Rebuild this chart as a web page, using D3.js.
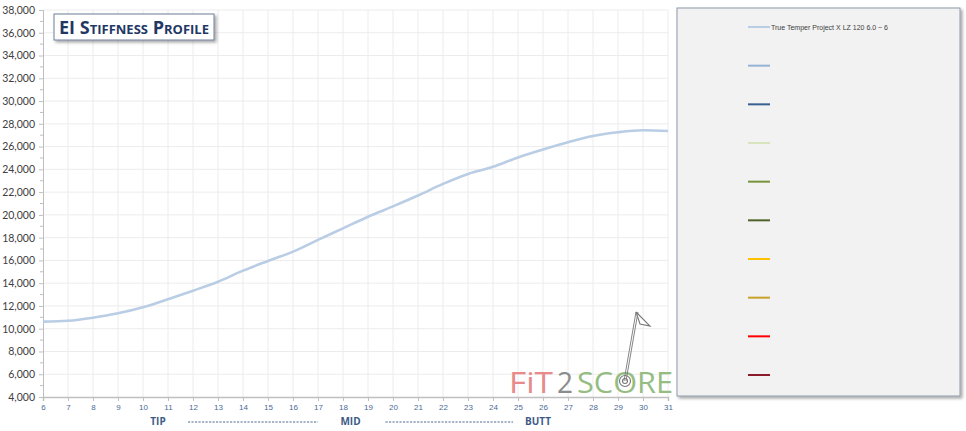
<!DOCTYPE html>
<html><head><meta charset="utf-8">
<script src="https://cdn.jsdelivr.net/npm/d3@7"></script>
<style>
html,body{margin:0;padding:0;background:#fff;}
svg{display:block;}
</style></head>
<body>
<svg id="chart" width="966" height="431"></svg>
<script>
// ---- data ----
const positions = [6,7,8,9,10,11,12,13,14,15,16,17,18,19,20,21,22,23,24,25,26,27,28,29,30,31];
const eiValues = [10620,10700,10970,11350,11880,12590,13340,14130,15100,15950,16770,17800,18820,19840,20750,21700,22720,23600,24220,25050,25750,26380,26930,27260,27430,27370];
const seriesNames = ["True Temper Project X LZ 120 6.0 ~ 6","","","","","","","","",""];
const seriesColors = ["#b9cde5","#95b3d7","#366092","#d7e4bc","#77933c","#4f6228","#ffc000","#c9a227","#ff0000","#8b1a2b"];
const yTicks = [4000,6000,8000,10000,12000,14000,16000,18000,20000,22000,24000,26000,28000,30000,32000,34000,36000,38000];
const yMinorTicks = d3.range(5000,38000,2000);
const zoneLabels = ["TIP","MID","BUTT"];
const zonePositions = [10.6,18.3,25.8];
const dashSpans = [[11.8,17.0],[19.7,24.8]];

// ---- layout ----
const svg = d3.select("#chart");
const L = 43, R = 668, T = 10, B = 397;
const x = d3.scaleLinear().domain([6,31]).range([L,R]);
const y = d3.scaleLinear().domain([4000,38000]).range([B,T]);

const defs = svg.append("defs");
const f = defs.append("filter").attr("id","shadow").attr("x","-10%").attr("y","-10%").attr("width","130%").attr("height","140%");
f.append("feDropShadow").attr("dx",2).attr("dy",2).attr("stdDeviation",1.5).attr("flood-color","#000").attr("flood-opacity",0.35);

// gridlines
svg.append("g").selectAll("line").data(yTicks.filter(d=>d>4000)).join("line")
  .attr("x1",L).attr("x2",R).attr("y1",d=>y(d)).attr("y2",d=>y(d))
  .attr("stroke","#ececec").attr("stroke-width",1);
svg.append("g").selectAll("line").data(positions.slice(1)).join("line")
  .attr("x1",d=>x(d)).attr("x2",d=>x(d)).attr("y1",T).attr("y2",B)
  .attr("stroke","#ececec").attr("stroke-width",1);

// y axis
const yAxis = svg.append("g").attr("transform",`translate(${L},0)`)
  .call(d3.axisLeft(y).tickValues(yTicks).tickFormat(d3.format(",")).tickSize(4).tickPadding(4));
yAxis.select(".domain").attr("stroke","#bfbfbf");
yAxis.selectAll(".tick line").attr("stroke","#bfbfbf");
yAxis.selectAll("text").attr("font-family","Lato, 'Open Sans', sans-serif").attr("font-size","10.5px").attr("fill","#404040");
svg.append("g").selectAll("line").data(yMinorTicks).join("line")
  .attr("x1",L-3).attr("x2",L).attr("y1",d=>y(d)).attr("y2",d=>y(d))
  .attr("stroke","#bfbfbf");

// x axis
const xAxis = svg.append("g").attr("transform",`translate(0,${B})`)
  .call(d3.axisBottom(x).tickValues(positions).tickFormat(d3.format("d")).tickSize(4).tickPadding(3));
xAxis.select(".domain").attr("stroke","#bfbfbf").attr("stroke-width",1.5);
xAxis.selectAll(".tick line").attr("stroke","#bfbfbf");
xAxis.selectAll("text").attr("font-family","'Liberation Sans', Arial, sans-serif").attr("font-size","8px").attr("fill","#4a6a96");

// zone labels
svg.append("g").selectAll("text").data(zoneLabels).join("text")
  .attr("x",(d,i)=>x(zonePositions[i])).attr("y",425).attr("text-anchor","middle")
  .attr("font-family","'Open Sans', sans-serif").attr("font-weight","bold").attr("font-size","10px")
  .attr("fill","#3d5a86").text(d=>d);
svg.append("g").selectAll("line").data(dashSpans).join("line")
  .attr("x1",d=>x(d[0])).attr("x2",d=>x(d[1])).attr("y1",422).attr("y2",422)
  .attr("stroke","#3d5a86").attr("stroke-width",0.9).attr("stroke-dasharray","2.2,1.3");

// watermark logo
const logo = svg.append("g").attr("font-family","'Open Sans', sans-serif").attr("font-size","30px");
logo.append("text").attr("x",509).attr("y",393).attr("fill","#e88a8a").attr("textLength",44).attr("lengthAdjust","spacingAndGlyphs").text("FiT");
logo.append("text").attr("x",557).attr("y",393).attr("fill","#8c8c8c").attr("textLength",16).attr("lengthAdjust","spacingAndGlyphs").text("2");
logo.append("text").attr("x",577).attr("y",393).attr("fill","#95bd82").attr("textLength",96).attr("lengthAdjust","spacingAndGlyphs").text("SCORE");
const flag = svg.append("g").attr("fill","none").attr("stroke","#777").attr("stroke-width",1.1);
flag.append("circle").attr("cx",625).attr("cy",381).attr("r",5.5).attr("fill","#fff");
flag.append("circle").attr("cx",625).attr("cy",381).attr("r",2.5);
flag.append("path").attr("d","M624,381 L636,312 M626,381 L638,312").attr("stroke-width",0.9);
flag.append("path").attr("d","M636,312 L650,326 L640,324 Z").attr("fill","#fff");

// data line
svg.append("path").datum(positions.map((p,i)=>[p,eiValues[i]]))
  .attr("d",d3.line().x(d=>x(d[0])).y(d=>y(d[1])).curve(d3.curveMonotoneX))
  .attr("fill","none").attr("stroke",seriesColors[0]).attr("stroke-width",2.6);

// title box
const tg = svg.append("g");
tg.append("rect").attr("x",54).attr("y",14).attr("width",160).attr("height",26)
  .attr("fill","#fff").attr("stroke","#6f7f99").attr("stroke-width",1).attr("filter","url(#shadow)");
tg.append("text").attr("x",134).attr("y",34).attr("text-anchor","middle")
  .attr("font-family","'Open Sans', sans-serif").attr("font-weight","bold").attr("font-size","18px")
  .attr("font-variant","small-caps").attr("fill","#1f3864").attr("textLength",150).attr("lengthAdjust","spacingAndGlyphs")
  .text("EI Stiffness Profile");

// legend
const lg = svg.append("g");
lg.append("rect").attr("x",677).attr("y",8).attr("width",283).attr("height",388)
  .attr("fill","#f2f2f2").attr("stroke","#8e9aaa").attr("stroke-width",1).attr("filter","url(#shadow)");
const ly = d3.scaleLinear().domain([0,9]).range([27,375]);
const items = lg.selectAll("g.item").data(seriesColors).join("g").attr("class","item")
  .attr("transform",(d,i)=>`translate(0,${ly(i)})`);
items.append("line").attr("x1",748).attr("x2",770).attr("y1",0).attr("y2",0)
  .attr("stroke",d=>d).attr("stroke-width",2);
items.filter((d,i)=>seriesNames[i] !== "").append("text").attr("x",771).attr("y",3).attr("font-family","'Liberation Sans', Arial, sans-serif")
  .attr("font-size","7.5px").attr("fill","#404040").attr("textLength",117).attr("lengthAdjust","spacingAndGlyphs")
  .text((d,i)=>seriesNames[0]);
</script>
</body></html>
